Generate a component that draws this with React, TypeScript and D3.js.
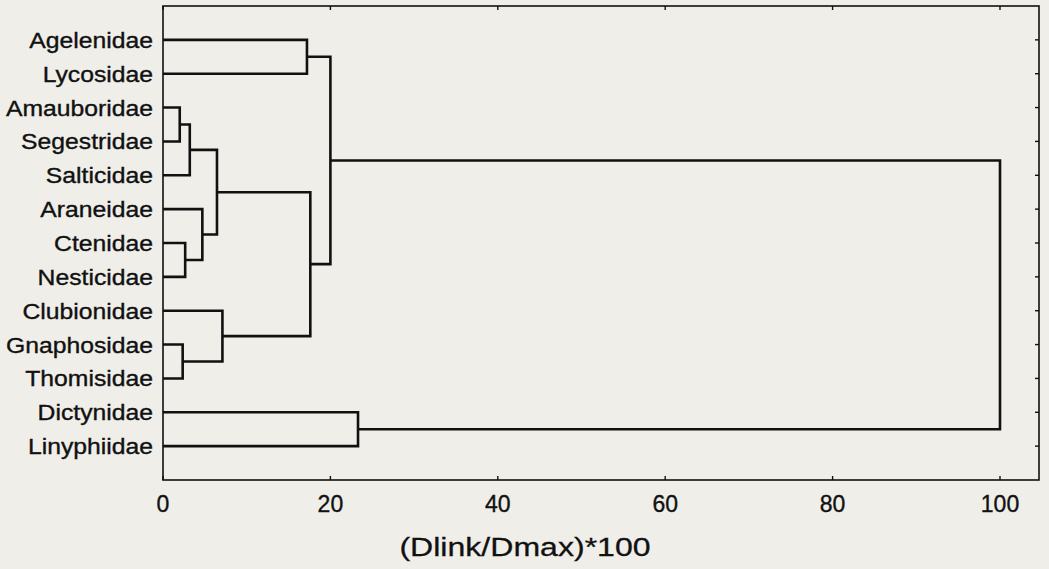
import React from 'react';
import * as d3 from 'd3';

const leaves = [
  'Agelenidae', 'Lycosidae', 'Amauboridae', 'Segestridae', 'Salticidae', 'Araneidae',
  'Ctenidae', 'Nesticidae', 'Clubionidae', 'Gnaphosidae', 'Thomisidae', 'Dictynidae', 'Linyphiidae',
];

// merge k makes node leaves.length + k : [childA, childB, linkage distance]
const merges: [number, number, number][] = [
  [2, 3, 2.0],
  [9, 10, 2.35],
  [6, 7, 2.65],
  [13, 4, 3.2],
  [5, 15, 4.7],
  [16, 17, 6.45],
  [8, 14, 7.1],
  [0, 1, 17.2],
  [18, 19, 17.6],
  [20, 21, 20.0],
  [11, 12, 23.3],
  [22, 23, 100],
];

const xTicks = [0, 20, 40, 60, 80, 100];
const xTitle = '(Dlink/Dmax)*100';

const W = 1049;
const H = 569;
const left = 163, right = 1039, top = 6, bottom = 480;

export default function App() {
  const x = d3.scaleLinear().domain([0, 104.66]).range([left, right]);
  const y = d3.scaleLinear().domain([-1, leaves.length]).range([top, bottom]);

  // positions of every node (leaves first, then merges)
  const pos: { x: number; y: number }[] = leaves.map((_, i) => ({ x: x(0), y: y(i) }));
  const links: string[] = [];
  merges.forEach(([a, b, h]) => {
    const pa = pos[a], pb = pos[b];
    const xm = x(h);
    const p = d3.path();
    p.moveTo(pa.x, pa.y);
    p.lineTo(xm, pa.y);
    p.lineTo(xm, pb.y);
    p.lineTo(pb.x, pb.y);
    links.push(p.toString());
    pos.push({ x: xm, y: (pa.y + pb.y) / 2 });
  });

  const font = 'Liberation Sans, Arial, Helvetica, sans-serif';
  const ink = '#111';

  return (
    <svg width={W} height={H} style={{ position: 'absolute', left: 0, top: 0, background: '#efeee9' }}>
      <rect x={0} y={0} width={W} height={H} fill="#efeee9" />
      {/* frame */}
      <rect x={left} y={top} width={right - left} height={bottom - top} fill="none" stroke={ink} strokeWidth={1.6} />
      {/* x ticks, bottom and top, pointing inward */}
      {xTicks.map(t => (
        <g key={t}>
          <line x1={x(t)} x2={x(t)} y1={bottom} y2={bottom - 4} stroke={ink} strokeWidth={1.4} />
          <line x1={x(t)} x2={x(t)} y1={top} y2={top + 4} stroke={ink} strokeWidth={1.4} />
          <text x={x(t)} y={512} textAnchor="middle" fontFamily={font} fontSize={23}
            fill={ink} stroke={ink} strokeWidth={0.35}>{t}</text>
        </g>
      ))}
      {/* y ticks on right edge */}
      {leaves.map((_, i) => (
        <line key={i} x1={right} x2={right - 4} y1={y(i)} y2={y(i)} stroke={ink} strokeWidth={1.4} />
      ))}
      {/* leaf labels */}
      {leaves.map((name, i) => (
        <g key={name} transform={`translate(153,${y(i) + 8}) scale(1.15,1)`}>
          <text x={0} y={0} textAnchor="end" fontFamily={font} fontSize={21.5}
            fill={ink} stroke={ink} strokeWidth={0.35}>{name}</text>
        </g>
      ))}
      {/* dendrogram links */}
      {links.map((d, i) => (
        <path key={i} d={d} fill="none" stroke={ink} strokeWidth={2.6} strokeLinejoin="miter" />
      ))}
      <g transform={`translate(525,556) scale(1.21,1)`}>
        <text x={0} y={0} textAnchor="middle" fontFamily={font} fontSize={26.5}
          fill={ink} stroke={ink} strokeWidth={0.3}>{xTitle}</text>
      </g>
    </svg>
  );
}
